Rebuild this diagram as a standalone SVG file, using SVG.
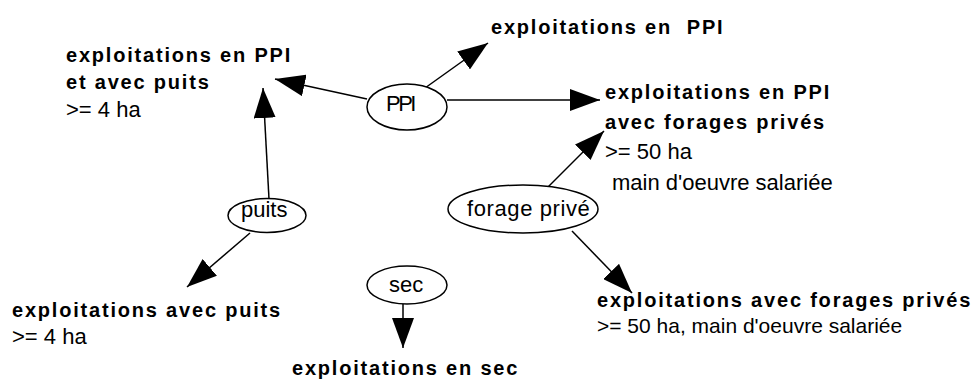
<svg xmlns="http://www.w3.org/2000/svg" width="975" height="379" viewBox="0 0 975 379">
<defs>
<style>
.bg{fill:#fff}
.node ellipse{fill:#fff;stroke:#000;stroke-width:1.5}
.nt{font-family:"Liberation Sans",Arial,sans-serif;font-size:22px;fill:#000}
.b{font-family:"Liberation Sans",Arial,sans-serif;font-size:20px;font-weight:bold;letter-spacing:1.8px;fill:#000}
.r{font-family:"Liberation Sans",Arial,sans-serif;font-size:22px;fill:#000}
.edge{stroke:#000;stroke-width:1.5;fill:none;marker-end:url(#ah)}
</style>
<marker id="ah" markerUnits="userSpaceOnUse" markerWidth="30" markerHeight="22" refX="30" refY="11" orient="auto" viewBox="0 0 30 22">
<path d="M0,0 L30,11 L0,22 z" fill="#000"/>
</marker>
</defs>
<rect class="bg" x="0" y="0" width="975" height="379"/>
<g id="connectors">
<line class="edge" x1="367" y1="99" x2="275" y2="79"/>
<line class="edge" x1="425" y1="88" x2="488" y2="43"/>
<line class="edge" x1="447" y1="100" x2="600" y2="100"/>
<line class="edge" x1="269" y1="199" x2="263" y2="88"/>
<line class="edge" x1="250" y1="233" x2="187" y2="287"/>
<line class="edge" x1="403" y1="304" x2="403" y2="348"/>
<line class="edge" x1="547" y1="188" x2="604" y2="131"/>
<line class="edge" x1="572" y1="231" x2="632" y2="293"/>
</g>
<g id="node-ppi" class="node">
<ellipse cx="407" cy="107" rx="40" ry="23"/>
<text class="nt" x="386" y="111" style="letter-spacing:-2.5px">PPI</text>
</g>
<g id="node-puits" class="node">
<ellipse cx="267" cy="215.5" rx="39" ry="17"/>
<text class="nt" x="241" y="217">puits</text>
</g>
<g id="node-sec" class="node">
<ellipse cx="407" cy="285" rx="40" ry="19"/>
<text class="nt" x="389" y="292">sec</text>
</g>
<g id="node-forage" class="node">
<ellipse cx="523" cy="209" rx="75" ry="24"/>
<text class="nt" x="467" y="216" style="letter-spacing:0.6px">forage privé</text>
</g>
<g id="label-ppi">
<text class="b" x="491" y="34" xml:space="preserve">exploitations en  PPI</text>
</g>
<g id="label-ppi-puits">
<text class="b" x="66" y="62">exploitations en PPI</text>
<text class="b" x="66" y="89">et avec puits</text>
<text class="r" x="66" y="117">&gt;= 4 ha</text>
</g>
<g id="label-ppi-forage">
<text class="b" x="605" y="99">exploitations en PPI</text>
<text class="b" x="605" y="129">avec forages privés</text>
<text class="r" x="605" y="159">&gt;= 50 ha</text>
<text class="r" x="612" y="190">main d'oeuvre salariée</text>
</g>
<g id="label-puits">
<text class="b" x="12" y="317">exploitations avec puits</text>
<text class="r" x="12" y="344">&gt;= 4 ha</text>
</g>
<g id="label-sec">
<text class="b" x="292" y="375">exploitations en sec</text>
</g>
<g id="label-forage">
<text class="b" x="597" y="307">exploitations avec forages privés</text>
<text class="r" x="597" y="333" style="font-size:21px">&gt;= 50 ha, main d'oeuvre salariée</text>
</g>
</svg>
